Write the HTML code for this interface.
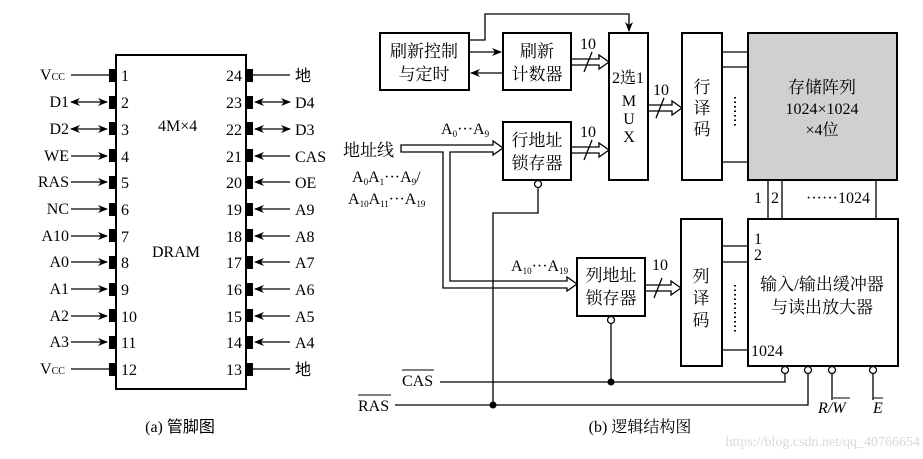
<!DOCTYPE html>
<html><head><meta charset="utf-8"><style>
body{margin:0;background:#fff}
svg{display:block}
text{font-family:"Liberation Serif","Noto Serif CJK SC",serif;fill:#000}
.c{font-family:"Liberation Serif","Noto Sans CJK SC",sans-serif}
</style></head><body>
<svg width="923" height="459" viewBox="0 0 923 459" xmlns="http://www.w3.org/2000/svg">
<defs>
<marker id="ah" markerWidth="10" markerHeight="8" refX="9" refY="4" orient="auto" markerUnits="userSpaceOnUse"><path d="M0,0 L10,4 L0,8 L3,4 z" fill="#000"/></marker>
<marker id="as" markerWidth="10" markerHeight="8" refX="1" refY="4" orient="auto" markerUnits="userSpaceOnUse"><path d="M10,0 L0,4 L10,8 L7,4 z" fill="#000"/></marker>
</defs>
<g stroke="#000" fill="none">
<rect x="116" y="55" width="130" height="334" stroke-width="2"/>
</g>
<g fill="#000">
<rect x="109" y="69" width="8" height="13"/><rect x="109" y="96" width="8" height="13"/><rect x="109" y="122" width="8" height="13"/><rect x="109" y="149" width="8" height="13"/><rect x="109" y="176" width="8" height="13"/><rect x="109" y="203" width="8" height="13"/><rect x="109" y="229" width="8" height="13"/><rect x="109" y="256" width="8" height="13"/><rect x="109" y="283" width="8" height="13"/><rect x="109" y="309" width="8" height="13"/><rect x="109" y="336" width="8" height="13"/><rect x="109" y="363" width="8" height="13"/>
<rect x="245" y="69" width="8" height="13"/><rect x="245" y="96" width="8" height="13"/><rect x="245" y="122" width="8" height="13"/><rect x="245" y="149" width="8" height="13"/><rect x="245" y="176" width="8" height="13"/><rect x="245" y="203" width="8" height="13"/><rect x="245" y="229" width="8" height="13"/><rect x="245" y="256" width="8" height="13"/><rect x="245" y="283" width="8" height="13"/><rect x="245" y="309" width="8" height="13"/><rect x="245" y="336" width="8" height="13"/><rect x="245" y="363" width="8" height="13"/>
</g>
<g stroke="#000" stroke-width="1.3">
<line x1="71" y1="75" x2="109" y2="75"/>
<line x1="71" y1="102" x2="107" y2="102" marker-end="url(#ah)" marker-start="url(#as)"/>
<line x1="71" y1="129" x2="107" y2="129" marker-end="url(#ah)" marker-start="url(#as)"/>
<line x1="71" y1="156" x2="107" y2="156" marker-end="url(#ah)"/>
<line x1="71" y1="182" x2="107" y2="182" marker-end="url(#ah)"/>
<line x1="71" y1="209" x2="107" y2="209" marker-end="url(#ah)"/>
<line x1="71" y1="236" x2="107" y2="236" marker-end="url(#ah)"/>
<line x1="71" y1="262" x2="107" y2="262" marker-end="url(#ah)"/>
<line x1="71" y1="289" x2="107" y2="289" marker-end="url(#ah)"/>
<line x1="71" y1="316" x2="107" y2="316" marker-end="url(#ah)"/>
<line x1="71" y1="342" x2="107" y2="342" marker-end="url(#ah)"/>
<line x1="71" y1="369" x2="109" y2="369"/>
<line x1="253" y1="75" x2="290" y2="75"/>
<line x1="255" y1="102" x2="290" y2="102" marker-start="url(#as)" marker-end="url(#ah)"/>
<line x1="255" y1="129" x2="290" y2="129" marker-start="url(#as)" marker-end="url(#ah)"/>
<line x1="255" y1="156" x2="290" y2="156" marker-start="url(#as)"/>
<line x1="255" y1="182" x2="290" y2="182" marker-start="url(#as)"/>
<line x1="255" y1="209" x2="290" y2="209" marker-start="url(#as)"/>
<line x1="255" y1="236" x2="290" y2="236" marker-start="url(#as)"/>
<line x1="255" y1="262" x2="290" y2="262" marker-start="url(#as)"/>
<line x1="255" y1="289" x2="290" y2="289" marker-start="url(#as)"/>
<line x1="255" y1="316" x2="290" y2="316" marker-start="url(#as)"/>
<line x1="255" y1="342" x2="290" y2="342" marker-start="url(#as)"/>
<line x1="253" y1="369" x2="290" y2="369"/>
</g>
<g font-size="16">
<text x="40" y="80">V<tspan font-size="10">CC</tspan></text>
<text x="69" y="107" text-anchor="end">D1</text><text x="69" y="134" text-anchor="end">D2</text>
<text x="69" y="161" text-anchor="end">WE</text><text x="69" y="187" text-anchor="end">RAS</text>
<text x="69" y="214" text-anchor="end">NC</text><text x="69" y="241" text-anchor="end">A10</text>
<text x="69" y="267" text-anchor="end">A0</text><text x="69" y="294" text-anchor="end">A1</text>
<text x="69" y="321" text-anchor="end">A2</text><text x="69" y="347" text-anchor="end">A3</text>
<text x="40" y="374">V<tspan font-size="10">CC</tspan></text>
<text x="121" y="81">1</text><text x="121" y="108">2</text><text x="121" y="135">3</text><text x="121" y="162">4</text><text x="121" y="188">5</text><text x="121" y="215">6</text><text x="121" y="242">7</text><text x="121" y="268">8</text><text x="121" y="295">9</text><text x="121" y="322">10</text><text x="121" y="348">11</text><text x="121" y="375">12</text>
<text x="242" y="81" text-anchor="end">24</text><text x="242" y="108" text-anchor="end">23</text><text x="242" y="135" text-anchor="end">22</text><text x="242" y="162" text-anchor="end">21</text><text x="242" y="188" text-anchor="end">20</text><text x="242" y="215" text-anchor="end">19</text><text x="242" y="242" text-anchor="end">18</text><text x="242" y="268" text-anchor="end">17</text><text x="242" y="295" text-anchor="end">16</text><text x="242" y="322" text-anchor="end">15</text><text x="242" y="348" text-anchor="end">14</text><text x="242" y="375" text-anchor="end">13</text>
<text x="295" y="81" class="c">地</text><text x="295" y="108">D4</text><text x="295" y="135">D3</text><text x="295" y="162">CAS</text><text x="295" y="188">OE</text><text x="295" y="215">A9</text><text x="295" y="242">A8</text><text x="295" y="268">A7</text><text x="295" y="295">A6</text><text x="295" y="322">A5</text><text x="295" y="348">A4</text><text x="295" y="375" class="c">地</text>
<text x="158" y="131">4M×4</text>
<text x="152" y="257">DRAM</text>
<text x="180" y="432" text-anchor="middle">(a) <tspan class="c">管脚图</tspan></text>
</g>

<g stroke="#000" fill="none" stroke-width="2">
<rect x="380" y="33" width="89" height="57"/>
<rect x="503" y="33" width="68" height="57"/>
<rect x="609" y="33" width="39" height="147"/>
<rect x="503" y="122" width="68" height="58"/>
<rect x="682" y="33" width="40" height="147"/>
<rect x="748" y="33" width="149" height="147" fill="#d0d0d0"/>
<rect x="577" y="258" width="68" height="58"/>
<rect x="681" y="219" width="41" height="147"/>
<rect x="748" y="219" width="150" height="147"/>
</g>
<g stroke="#000" fill="none" stroke-width="1.3">
<polyline points="469,40 485,40 485,14 629,14 629,31" marker-end="url(#ah)"/>
<line x1="469" y1="52" x2="501" y2="52" marker-end="url(#ah)"/>
<line x1="503" y1="73" x2="471" y2="73" marker-end="url(#ah)"/>
<line x1="722" y1="52" x2="748" y2="52"/><line x1="722" y1="67" x2="748" y2="67"/><line x1="722" y1="162" x2="748" y2="162"/>
<line x1="722" y1="246" x2="748" y2="246"/><line x1="722" y1="262" x2="748" y2="262"/><line x1="722" y1="350" x2="748" y2="350"/>
<line x1="768" y1="180" x2="768" y2="219"/><line x1="782" y1="180" x2="782" y2="219"/><line x1="876" y1="180" x2="876" y2="219"/>
<line x1="735" y1="97" x2="735" y2="126" stroke-dasharray="1.5,3" stroke-width="2"/>
<line x1="735" y1="285" x2="735" y2="332" stroke-dasharray="1.5,3" stroke-width="2"/>
<path d="M571,59 H599 V55 L609,62 L599,69 V65 H571"/>
<line x1="584" y1="72" x2="592" y2="52"/>
<path d="M571,147 H599 V143 L609,150 L599,157 V153 H571"/>
<line x1="584" y1="160" x2="592" y2="140"/>
<path d="M648,105 H672 V101 L682,108 L672,115 V111 H648"/>
<line x1="656" y1="118" x2="664" y2="98"/>
<path d="M645,285 H671 V281 L681,288 L671,295 V291 H645"/>
<line x1="654" y1="298" x2="662" y2="278"/>
<path d="M401,152 V145 H493 V141 L503,148 L493,155 V152 H450 V281 H567 V277 L577,284 L567,291 V288 H443 V152 Z" fill="#fff"/>
<circle cx="538" cy="184" r="3.5" fill="#fff"/>
<polyline points="538,188 538,213 493,213 493,405"/>
<circle cx="611" cy="320" r="3.5" fill="#fff"/>
<line x1="611" y1="324" x2="611" y2="382"/>
<polyline points="440,382 785,382 785,374"/>
<circle cx="785" cy="370" r="3.5" fill="#fff"/>
<polyline points="395,405 808,405 808,374"/>
<circle cx="808" cy="370" r="3.5" fill="#fff"/>
<line x1="832" y1="374" x2="832" y2="400"/><circle cx="832" cy="370" r="3.5" fill="#fff"/>
<line x1="873" y1="374" x2="873" y2="400"/><circle cx="873" cy="370" r="3.5" fill="#fff"/>
</g>
<circle cx="611" cy="382" r="3.5" fill="#000"/>
<circle cx="493" cy="405" r="3.5" fill="#000"/>
<g font-size="16" class="c">
<text x="424" y="57" text-anchor="middle" font-size="17">刷新控制</text>
<text x="424" y="80" text-anchor="middle" font-size="17">与定时</text>
<text x="537" y="57" text-anchor="middle" font-size="17">刷新</text>
<text x="537" y="80" text-anchor="middle" font-size="17">计数器</text>
<text x="537" y="146" text-anchor="middle" font-size="17">行地址</text>
<text x="537" y="169" text-anchor="middle" font-size="17">锁存器</text>
<text x="611" y="281" text-anchor="middle" font-size="17">列地址</text>
<text x="611" y="304" text-anchor="middle" font-size="17">锁存器</text>
<text x="628" y="83" text-anchor="middle">2选1</text>
<text x="629" y="106" text-anchor="middle">M</text>
<text x="629" y="124" text-anchor="middle">U</text>
<text x="629" y="142" text-anchor="middle">X</text>
<text x="702" y="93" text-anchor="middle" font-size="17">行</text>
<text x="702" y="114" text-anchor="middle" font-size="17">译</text>
<text x="702" y="135" text-anchor="middle" font-size="17">码</text>
<text x="701" y="282" text-anchor="middle" font-size="17">列</text>
<text x="701" y="304" text-anchor="middle" font-size="17">译</text>
<text x="701" y="326" text-anchor="middle" font-size="17">码</text>
<text x="822" y="93" text-anchor="middle" font-size="17">存储阵列</text>
<text x="822" y="114" text-anchor="middle">1024×1024</text>
<text x="822" y="135" text-anchor="middle">×4位</text>
<text x="822" y="290" text-anchor="middle" font-size="17">输入/输出缓冲器</text>
<text x="822" y="313" text-anchor="middle" font-size="17">与读出放大器</text>
<text x="343" y="156" font-size="17">地址线</text>
<text x="580" y="49">10</text><text x="580" y="137">10</text><text x="653" y="95">10</text><text x="652" y="270">10</text>
<text x="441" y="134">A<tspan font-size="9" dy="3">0</tspan><tspan dy="-3">···A</tspan><tspan font-size="9" dy="3">9</tspan></text>
<text x="352" y="182">A<tspan font-size="9" dy="3">0</tspan><tspan dy="-3">A</tspan><tspan font-size="9" dy="3">1</tspan><tspan dy="-3">···A</tspan><tspan font-size="9" dy="3">9</tspan><tspan dy="-3">/</tspan></text>
<text x="348" y="204">A<tspan font-size="9" dy="3">10</tspan><tspan dy="-3">A</tspan><tspan font-size="9" dy="3">11</tspan><tspan dy="-3">···A</tspan><tspan font-size="9" dy="3">19</tspan></text>
<text x="511" y="271">A<tspan font-size="9" dy="3">10</tspan><tspan dy="-3">···A</tspan><tspan font-size="9" dy="3">19</tspan></text>
<text x="754" y="203">1</text><text x="771" y="203">2</text><text x="806" y="203">······1024</text>
<text x="754" y="244">1</text><text x="754" y="260">2</text><text x="751" y="356">1024</text>
<text x="402" y="386">CAS</text><line x1="402" y1="370" x2="434" y2="370" stroke="#000"/>
<text x="358" y="411">RAS</text><line x1="358" y1="395" x2="391" y2="395" stroke="#000"/>
<text x="818" y="413" font-style="italic">R/W</text><line x1="833" y1="398" x2="850" y2="398" stroke="#000"/>
<text x="873" y="413" font-style="italic">E</text><line x1="873" y1="398" x2="883" y2="398" stroke="#000"/>
<text x="640" y="432" text-anchor="middle">(b) 逻辑结构图</text>
<text x="920" y="446" text-anchor="end" font-family="Liberation Sans,sans-serif" font-size="14" style="fill:#d8d8d8">https://blog.csdn.net/qq_40766654</text>
</g>
</svg>
</body></html>
